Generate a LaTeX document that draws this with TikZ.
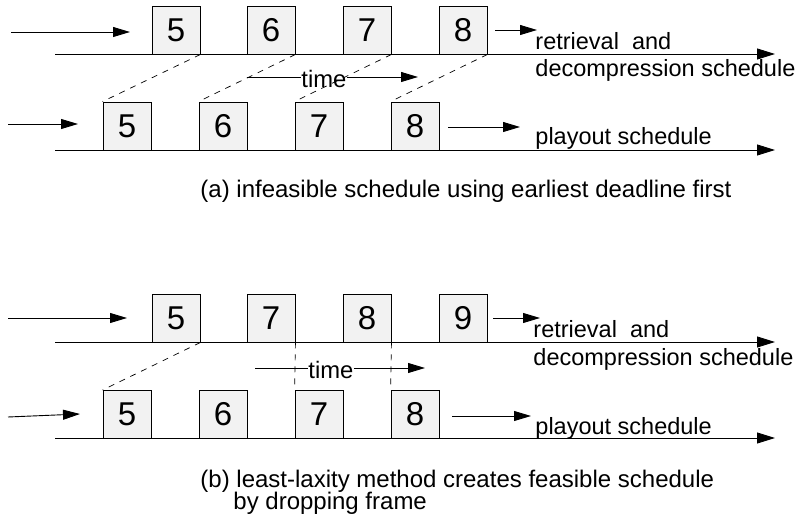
\documentclass[tikz,border=0pt]{standalone}
\usepackage{fontspec}
\setmainfont{Liberation Sans}
\usetikzlibrary{arrows.meta}
\begin{document}
\begin{tikzpicture}[x=1pt,y=-1pt,line width=0.9pt,
  frame/.style={draw,fill=gray!10,minimum width=48pt,minimum height=48pt,
    inner sep=0pt,font=\fontsize{33}{33}\selectfont},
  axis/.style={-{Triangle[length=18pt,width=11pt]}},
  feed/.style={-{Triangle[length=17pt,width=10pt]}},
  guide/.style={dash pattern=on 6pt off 6pt,line width=0.7pt},
  lbl/.style={font=\fontsize{23.5}{27}\selectfont,inner sep=0pt,anchor=base west},
  timelbl/.style={font=\fontsize{23.8}{27}\selectfont,inner sep=0pt,anchor=base west},
  caption/.style={font=\fontsize{24}{25}\selectfont,inner sep=0pt,anchor=base west}]
\useasboundingbox (0,0) rectangle (801,521);

% ---------- (a) earliest deadline first ----------
\coordinate (a-axis1-s) at (55,54);
\coordinate (a-axis1-e) at (775,54);
\coordinate (a-axis2-s) at (55,150);
\coordinate (a-axis2-e) at (775,150);
\draw[axis] (a-axis1-s) -- (a-axis1-e);
\draw[axis] (a-axis2-s) -- (a-axis2-e);

\node[frame] (a-r5) at (176,30) {5};
\node[frame] (a-r6) at (271,30) {6};
\node[frame] (a-r7) at (367,30) {7};
\node[frame] (a-r8) at (463,30) {8};

\node[frame] (a-p5) at (127,126) {5};
\node[frame] (a-p6) at (223,126) {6};
\node[frame] (a-p7) at (319,126) {7};
\node[frame] (a-p8) at (415,126) {8};

\coordinate (a-in1) at (11,32);
\coordinate (a-in1e) at (130,32);
\draw[feed] (a-in1) -- (a-in1e);
\coordinate (a-in2) at (8,124);
\coordinate (a-in2e) at (78,124);
\draw[feed] (a-in2) -- (a-in2e);

\coordinate (a-out1) at (495,30);
\coordinate (a-out1e) at (537,30);
\draw[feed] (a-out1) -- (a-out1e);
\coordinate (a-out2) at (448,127);
\coordinate (a-out2e) at (520,127);
\draw[feed] (a-out2) -- (a-out2e);

\node[lbl] (a-lbl1) at (535,50) {retrieval~ and};
\node[lbl] (a-lbl2) at (535,77) {decompression schedule};
\node[lbl] (a-lbl3) at (535,145) {playout schedule};

\draw[guide] (a-r5.south east) -- (a-p5.north west);
\draw[guide] (a-r6.south east) -- (a-p6.north west);
\draw[guide] (a-r7.south east) -- (a-p7.north west);
\draw[guide] (a-r8.south east) -- (a-p8.north west);

\node[timelbl] (a-time) at (301,88) {time};
\coordinate (a-time-s) at (247,77);
\coordinate (a-time-e) at (418,77);
\draw (a-time-s) -- (a-time-s -| a-time.west);
\draw[feed] (a-time-s -| a-time.east) -- (a-time-e);

\node[caption] (a-cap) at (200,198) {(a) infeasible schedule using earliest deadline first};

% ---------- (b) least laxity ----------
\coordinate (b-axis1-s) at (55,342);
\coordinate (b-axis1-e) at (775,342);
\coordinate (b-axis2-s) at (55,438);
\coordinate (b-axis2-e) at (775,438);
\draw[axis] (b-axis1-s) -- (b-axis1-e);
\draw[axis] (b-axis2-s) -- (b-axis2-e);

\node[frame] (b-r5) at (176,318) {5};
\node[frame] (b-r7) at (271,318) {7};
\node[frame] (b-r8) at (367,318) {8};
\node[frame] (b-r9) at (463,318) {9};

\node[frame] (b-p5) at (127,414.5) {5};
\node[frame] (b-p6) at (223,414.5) {6};
\node[frame] (b-p7) at (319,414.5) {7};
\node[frame] (b-p8) at (415,414.5) {8};

\coordinate (b-in1) at (8,318);
\coordinate (b-in1e) at (127,318);
\draw[feed] (b-in1) -- (b-in1e);
\coordinate (b-in2) at (8,417);
\coordinate (b-in2e) at (80,414);
\draw[feed] (b-in2) -- (b-in2e);

\coordinate (b-out1) at (493,318);
\coordinate (b-out1e) at (540,318);
\draw[feed] (b-out1) -- (b-out1e);
\coordinate (b-out2) at (452,416);
\coordinate (b-out2e) at (531,416);
\draw[feed] (b-out2) -- (b-out2e);

\node[lbl] (b-lbl1) at (533,338) {retrieval~ and};
\node[lbl] (b-lbl2) at (533,366) {decompression schedule};
\node[lbl] (b-lbl3) at (535,434) {playout schedule};

\draw[guide] (b-r5.south east) -- (b-p5.north west);
\draw[guide] (b-r7.south east) -- (b-p7.north west);
\draw[guide] (b-r8.south east) -- (b-p8.north west);

\node[timelbl] (b-time) at (308,378) {time};
\coordinate (b-time-s) at (255,368);
\coordinate (b-time-e) at (425,368);
\draw (b-time-s) -- (b-time-s -| b-time.west);
\draw[feed] (b-time-s -| b-time.east) -- (b-time-e);

\node[caption] (b-cap1) at (200,487) {(b) least-laxity method creates feasible schedule};
\node[caption] (b-cap2) at (233,509) {by dropping frame};
\end{tikzpicture}
\end{document}
